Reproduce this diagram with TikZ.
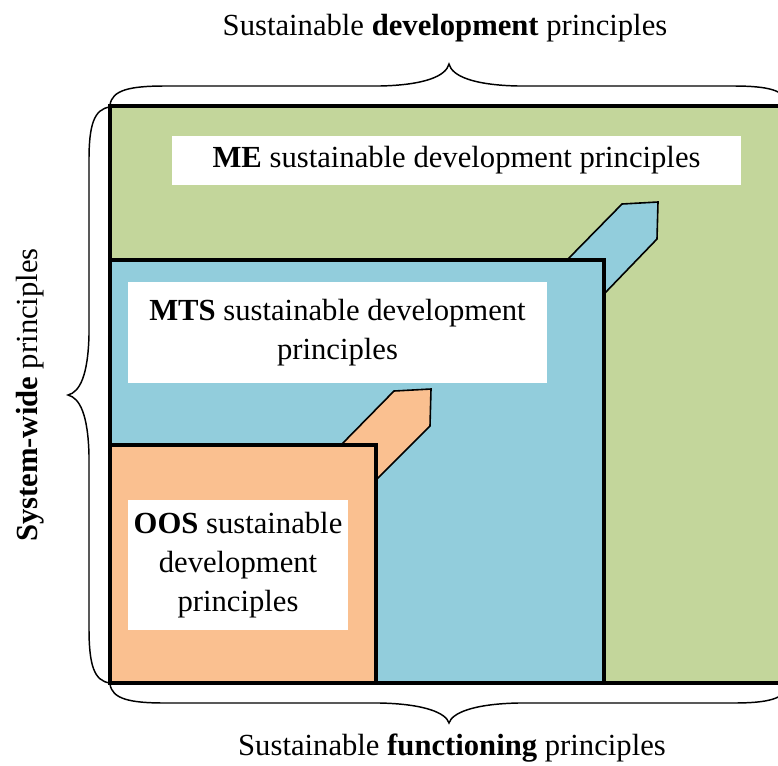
\documentclass[tikz,border=0pt]{standalone}
\usepackage{fontspec}
\setmainfont{Liberation Serif}
\definecolor{meGreen}{RGB}{195,214,155}
\definecolor{mtsBlue}{RGB}{146,205,220}
\definecolor{oosOrange}{RGB}{250,192,144}
\begin{document}
\begin{tikzpicture}[x=0.75pt,y=-0.75pt,
  frameline/.style={draw=black,line width=2.4pt,line join=miter},
  tabline/.style={draw=black,line width=1.2pt,line join=miter},
  bracestroke/.style={draw=black,line width=1.1pt},
  labelbox/.style={fill=white,inner sep=0pt,align=center,font=\fontsize{23}{29}\selectfont},
  caption/.style={font=\fontsize{23}{27}\selectfont,inner sep=0pt}]
\useasboundingbox (0,0) rectangle (778,765);
\begin{scope}
\clip (0,0) rectangle (778,765);
% ME level (green)
\fill[meGreen] (110,106) rectangle (800,683);
% MTS tab and level (blue)
\filldraw[fill=mtsBlue,tabline] (568,259) -- (622,204) -- (658,202) -- (657,239) -- (604,294) -- (604,259) -- cycle;
\fill[mtsBlue] (110,260) rectangle (604,683);
\draw[frameline] (110,260) -- (604,260) -- (604,683);
% OOS tab and level (orange)
\filldraw[fill=oosOrange,tabline] (340,446) -- (394,391) -- (431,389) -- (430,426) -- (376,480) -- (376,446) -- cycle;
\fill[oosOrange] (110,445) rectangle (376,683);
\draw[frameline] (110,445) -- (376,445) -- (376,683);
% outer frame
\draw[frameline] (800,106) -- (110,106) -- (110,683) -- (800,683);
% braces
\draw[bracestroke] (110,105) .. controls (112,90) and (130,86) .. (165,86) -- (380,86)
  .. controls (425,85) and (446,76) .. (449,64)
  .. controls (452,76) and (473,85) .. (518,86) -- (733,86)
  .. controls (768,86) and (786,90) .. (788,105);
\draw[bracestroke] (110,684) .. controls (112,699) and (130,703) .. (165,703) -- (380,703)
  .. controls (425,704) and (446,713) .. (449,723)
  .. controls (452,713) and (473,704) .. (518,703) -- (733,703)
  .. controls (768,703) and (786,699) .. (788,684);
\draw[bracestroke] (110,107) .. controls (94,109) and (89,125) .. (89,160) -- (89,335)
  .. controls (88,375) and (80,392) .. (68,395)
  .. controls (80,398) and (88,415) .. (89,455) -- (89,628)
  .. controls (89,665) and (94,681) .. (110,683);
\end{scope}
% text boxes
\node[labelbox,minimum width=426.75pt,minimum height=36.75pt] (me) at (456.5,160.5)
  {\textbf{ME} sustainable development principles};
\node[labelbox,minimum width=314.25pt,minimum height=75.75pt] (mts) at (337.5,332.5)
  {\textbf{MTS} sustainable development\\principles};
\node[labelbox,minimum width=165pt,minimum height=97.5pt] (oos) at (238,565)
  {\textbf{OOS} sustainable\\development\\principles};
% axis captions
\node[caption] (topcap) at (445,28) {Sustainable \textbf{development} principles};
\node[caption] (botcap) at (452,748) {Sustainable \textbf{functioning} principles};
\node[caption,rotate=90] (leftcap) at (30,395) {\textbf{System-wide} principles};
\end{tikzpicture}
\end{document}
